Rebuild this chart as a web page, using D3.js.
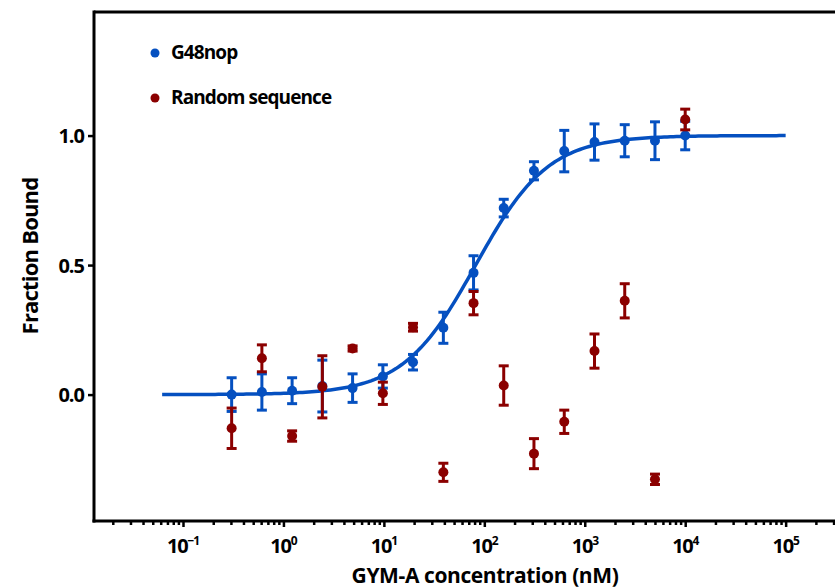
<!DOCTYPE html>
<html>
<head>
<meta charset="utf-8">
<script src="https://cdn.jsdelivr.net/npm/d3@7"></script>
<style>
  body { margin: 0; background: #fff; }
  text { font-family: "Open Sans", "Noto Sans", sans-serif; font-weight: 700; }
</style>
</head>
<body>
<script>
// two-fold dilution series (nM)
const conc = [0.305, 0.61, 1.22, 2.44, 4.88, 9.77, 19.5, 39.1, 78.1, 156, 312, 625, 1250, 2500, 5000, 10000];

const g48Mean = [0.0, 0.01, 0.015, 0.033, 0.025, 0.07, 0.125, 0.258, 0.47, 0.72, 0.864, 0.94, 0.975, 0.98, 0.98, 1.0];
const g48Err  = [0.065, 0.07, 0.05, 0.10, 0.055, 0.045, 0.03, 0.06, 0.066, 0.034, 0.035, 0.08, 0.07, 0.062, 0.073, 0.055];

const randMean = [-0.13, 0.14, -0.16, 0.03, 0.178, 0.005, 0.26, -0.30, 0.353, 0.035, -0.228, -0.105, 0.168, 0.362, -0.327, 1.062];
const randErr  = [0.078, 0.052, 0.02, 0.12, 0.01, 0.043, 0.015, 0.035, 0.045, 0.076, 0.058, 0.045, 0.066, 0.066, 0.02, 0.04];

// fitted binding curve (Hill)
const fit = { bottom: 0.0, top: 1.0, kd: 82, hill: 1.2, from: 0.062, to: 100000 };

const yTicks = [0.0, 0.5, 1.0];
const xMajor = [-1, 0, 1, 2, 3, 4, 5];
const legendItems = ["G48nop", "Random sequence"];

const blue = "#0550c0";
const red = "#8b0000";

const W = 835, H = 588;
const svg = d3.select("body").append("svg")
  .attr("width", W)
  .attr("height", H);

const x = d3.scaleLog().domain([0.013, 310000]).range([94, 835]);
const y = d3.scaleLinear().domain([-0.488, 1.477]).range([521, 12]);

// frame: top line
svg.append("line")
  .attr("x1", 94).attr("x2", 835).attr("y1", 12).attr("y2", 12)
  .attr("stroke", "#000").attr("stroke-width", 3);

// minor ticks
const minor = [];
for (let e = -2; e <= 5; e++) {
  for (let m = 2; m <= 9; m++) {
    const v = m * Math.pow(10, e);
    if (v > 0.013 && v < 310000) minor.push(v);
  }
}

const gx = svg.append("g").attr("transform", "translate(0,521)");
gx.call(d3.axisBottom(x).tickValues(minor).tickSize(4).tickFormat(""))
  .call(g => g.select(".domain").remove())
  .call(g => g.selectAll(".tick line").attr("stroke-width", 2.5));
const gxMaj = svg.append("g").attr("transform", "translate(0,521)");
gxMaj.call(d3.axisBottom(x).tickValues(xMajor.map(e => Math.pow(10, e))).tickSize(6).tickFormat(""))
  .call(g => g.select(".domain").remove())
  .call(g => g.selectAll(".tick line").attr("stroke-width", 2.5));

svg.append("line")
  .attr("x1", 92.5).attr("x2", 835).attr("y1", 521).attr("y2", 521)
  .attr("stroke", "#000").attr("stroke-width", 3);

const xl = svg.selectAll(".xlab").data(xMajor).enter().append("text")
  .attr("class", "xlab")
  .attr("x", d => x(Math.pow(10, d)))
  .attr("y", 553)
  .attr("text-anchor", "middle")
  .attr("font-size", 20)
  .attr("letter-spacing", -1.2);
xl.append("tspan").text("10");
xl.append("tspan")
  .attr("dy", -8)
  .attr("font-size", 12)
  .text(d => d < 0 ? "\u2212" + (-d) : d);

// y axis
const gy = svg.append("g").attr("transform", "translate(94,0)");
gy.call(d3.axisLeft(y).tickValues(yTicks).tickSize(6).tickFormat(d3.format(".1f")))
  .call(g => g.select(".domain").remove())
  .call(g => g.selectAll(".tick line").attr("stroke-width", 2.5))
  .call(g => g.selectAll(".tick text")
    .attr("font-size", 20)
    .attr("x", -10)
    .attr("dy", "0.35em")
    .attr("letter-spacing", -1)
    .attr("fill", "#000"));
svg.append("line")
  .attr("x1", 94).attr("x2", 94).attr("y1", 10.5).attr("y2", 522.5)
  .attr("stroke", "#000").attr("stroke-width", 3);

// axis titles
svg.append("text")
  .attr("transform", "translate(38,256) rotate(-90)")
  .attr("text-anchor", "middle")
  .attr("font-size", 22)
  .attr("letter-spacing", -0.8)
  .text("Fraction Bound");
svg.append("text")
  .attr("x", 485)
  .attr("y", 583)
  .attr("text-anchor", "middle")
  .attr("font-size", 21)
  .attr("letter-spacing", -0.4)
  .text("GYM-A concentration (nM)");

// fit curve
const curveX = d3.range(0, 201).map(i =>
  Math.pow(10, Math.log10(fit.from) + i / 200 * (Math.log10(fit.to) - Math.log10(fit.from))));
const hill = c => fit.bottom + (fit.top - fit.bottom) * Math.pow(c, fit.hill) /
  (Math.pow(fit.kd, fit.hill) + Math.pow(c, fit.hill));
svg.append("path")
  .datum(curveX)
  .attr("fill", "none")
  .attr("stroke", blue)
  .attr("stroke-width", 3.5)
  .attr("d", d3.line().x(d => x(d)).y(d => y(hill(d))));

function drawSeries(mean, err, color) {
  const rows = conc.map((c, i) => ({ c: c, m: mean[i], e: err[i] }));
  const g = svg.append("g");
  const p = g.selectAll(".pt").data(rows).enter().append("g");
  p.append("line")
    .attr("x1", d => x(d.c)).attr("x2", d => x(d.c))
    .attr("y1", d => y(d.m - d.e)).attr("y2", d => y(d.m + d.e))
    .attr("stroke", color).attr("stroke-width", 3);
  [1, -1].forEach(s => {
    p.append("line")
      .attr("x1", d => x(d.c) - 5).attr("x2", d => x(d.c) + 5)
      .attr("y1", d => y(d.m + s * d.e)).attr("y2", d => y(d.m + s * d.e))
      .attr("stroke", color).attr("stroke-width", 3);
  });
  p.append("circle")
    .attr("cx", d => x(d.c))
    .attr("cy", d => y(d.m))
    .attr("r", 5)
    .attr("fill", color);
}
drawSeries(g48Mean, g48Err, blue);
drawSeries(randMean, randErr, red);

// legend
const lg = svg.selectAll(".leg").data(legendItems).enter().append("g")
  .attr("transform", (d, i) => `translate(155,${53 + i * 45})`);
lg.append("circle")
  .attr("r", 4.5)
  .attr("fill", (d, i) => i === 0 ? blue : red);
lg.append("text")
  .attr("x", 16)
  .attr("y", 6)
  .attr("font-size", 19)
  .attr("letter-spacing", -0.9)
  .text(d => d);
</script>
</body>
</html>
